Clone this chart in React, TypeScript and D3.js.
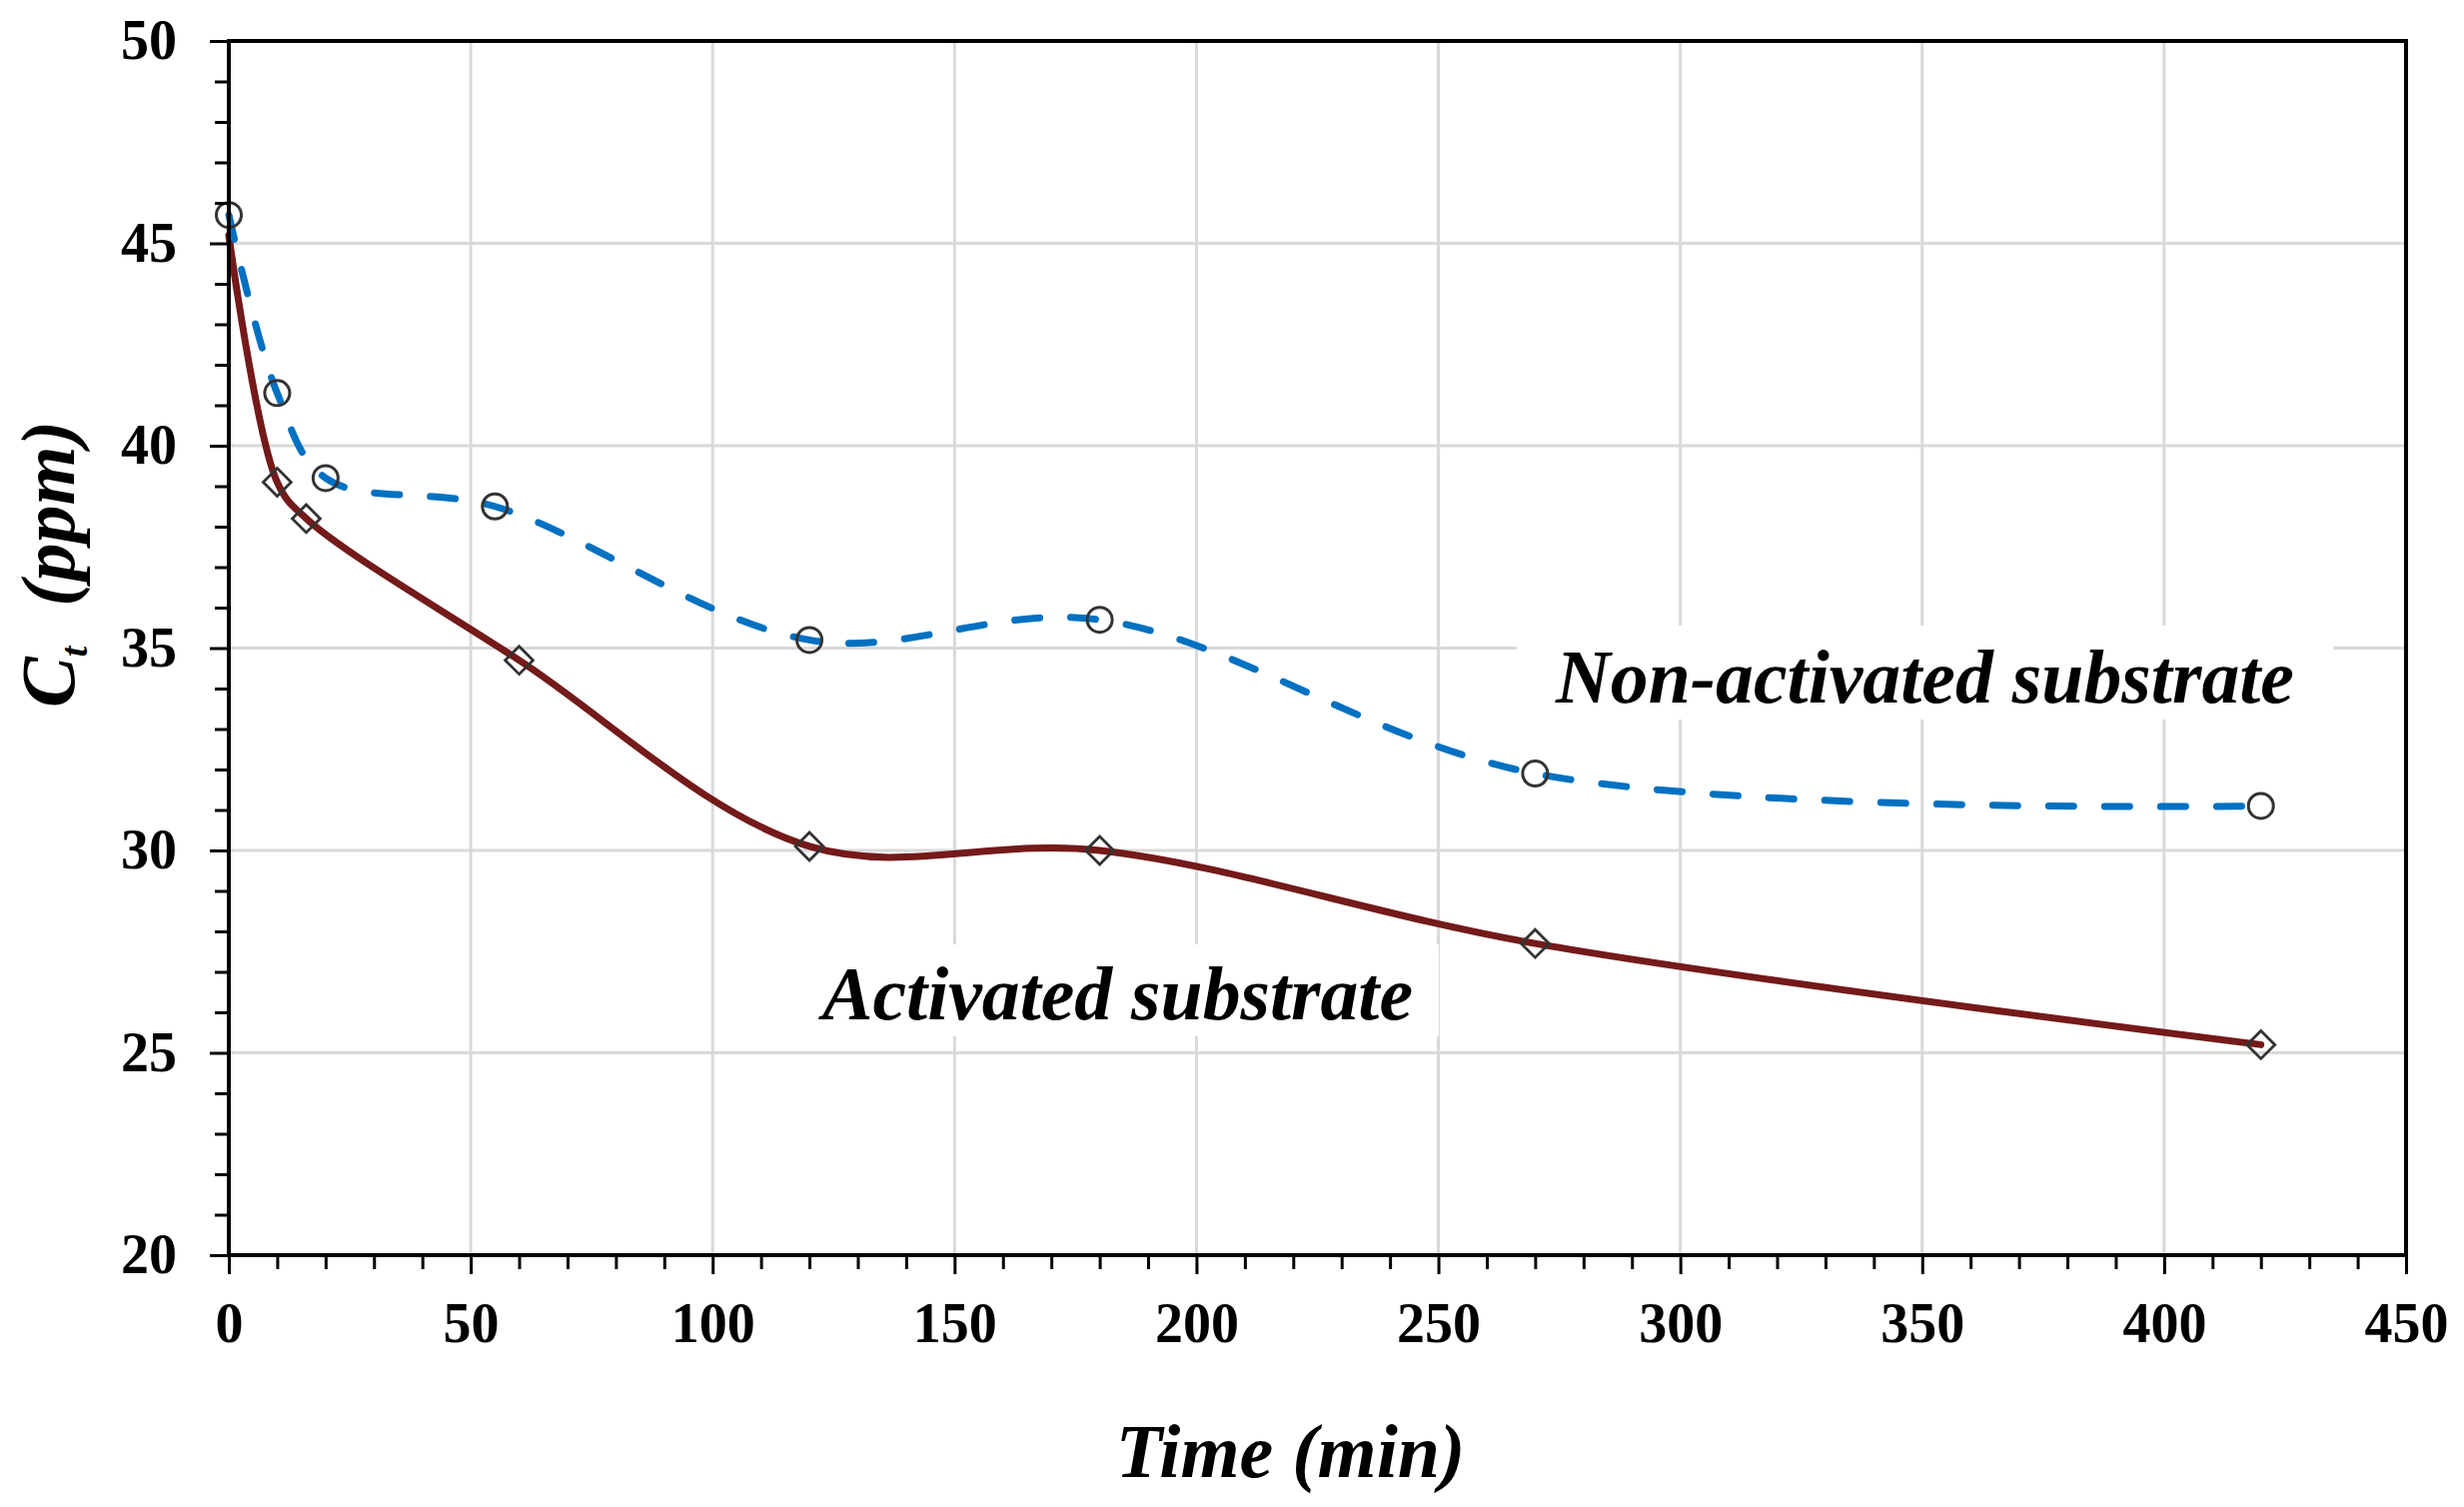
import React, { useEffect, useRef } from 'react';
import * as d3 from 'd3';

// axis ticks
const timeTicks = [0, 50, 100, 150, 200, 250, 300, 350, 400, 450];
const concTicks = [20, 25, 30, 35, 40, 45, 50];

// non-activated substrate (circles, dashed blue)
const nonActTime = [0, 10, 20, 55, 120, 180, 270, 420];
const nonActConc = [45.7, 41.3, 39.2, 38.5, 35.2, 35.7, 31.9, 31.1];

// activated substrate (diamonds, solid dark red); first point has no marker
const actTime = [0, 10, 16, 60, 120, 180, 270, 420];
const actConc = [45.2, 39.1, 38.2, 34.7, 30.1, 30.0, 27.7, 25.2];

const serif = "'Liberation Serif', 'Times New Roman', serif";

const App = () => {
  const Width = 2466;
  const Height = 1508;
  const margin = { top: 41, right: 58, bottom: 252, left: 229 };

  const x = d3.scaleLinear().domain([0, 450]).range([margin.left, Width - margin.right]);
  const y = d3.scaleLinear().domain([20, 50]).range([Height - margin.bottom, margin.top]);

  const xAxisRef = useRef<SVGGElement>(null);
  const yAxisRef = useRef<SVGGElement>(null);

  useEffect(() => {
    const minorTime = d3.range(0, 451, 10).filter((t) => t % 50 !== 0);
    const minorConc = d3.range(20, 51, 1).filter((c) => c % 5 !== 0);

    const gx = d3.select(xAxisRef.current);
    gx.selectAll('*').remove();
    gx.append('g').call(d3.axisBottom(x).tickValues(minorTime).tickSize(14).tickFormat(() => ''));
    gx.append('g').call(d3.axisBottom(x).tickValues(timeTicks).tickSize(19).tickPadding(28).tickFormat(d3.format('d')));

    const gy = d3.select(yAxisRef.current);
    gy.selectAll('*').remove();
    gy.append('g').call(d3.axisLeft(y).tickValues(minorConc).tickSize(14).tickFormat(() => ''));
    gy.append('g').call(d3.axisLeft(y).tickValues(concTicks).tickSize(19).tickPadding(33).tickFormat(d3.format('d')));

    [gx, gy].forEach((g) => {
      g.selectAll('.domain').remove();
      g.selectAll('line').attr('stroke', '#000').attr('stroke-width', 3);
      g.selectAll('text')
        .attr('font-size', 56)
        .attr('font-family', serif)
        .attr('font-weight', 'bold')
        .attr('fill', '#000');
    });
  }, []);

  const line = d3
    .line<[number, number]>()
    .x((d) => x(d[0]))
    .y((d) => y(d[1]))
    .curve(d3.curveCatmullRom);

  const nonActPts: [number, number][] = nonActTime.map((t, i) => [t, nonActConc[i]]);
  const actPts: [number, number][] = actTime.map((t, i) => [t, actConc[i]]);

  const diamond = d3.symbol().type(d3.symbolSquare).size(390)() as string;

  return (
    <svg
      width={Width}
      height={Height}
      style={{ position: 'absolute', left: 0, top: 0, background: '#fff' }}
    >
      <rect x={0} y={0} width={Width} height={Height} fill="#fff" />

      {/* grid */}
      <g stroke="#d9d9d9" strokeWidth={3}>
        {timeTicks.slice(1, -1).map((t) => (
          <line key={'gx' + t} x1={x(t)} x2={x(t)} y1={y(20)} y2={y(50)} />
        ))}
        {concTicks.slice(1, -1).map((c) => (
          <line key={'gy' + c} x1={x(0)} x2={x(450)} y1={y(c)} y2={y(c)} />
        ))}
      </g>

      {/* series labels with white boxes */}
      <rect x={1518} y={626} width={817} height={94} fill="#fff" />
      <text
        x={1557}
        y={703}
        fontFamily={serif}
        fontWeight="bold"
        fontStyle="italic"
        fontSize={76}
        textLength={739}
        lengthAdjust="spacingAndGlyphs"
      >
        Non-activated substrate
      </text>
      <rect x={800} y={945} width={640} height={92} fill="#fff" />
      <text
        x={823}
        y={1020}
        fontFamily={serif}
        fontWeight="bold"
        fontStyle="italic"
        fontSize={76}
        textLength={591}
        lengthAdjust="spacingAndGlyphs"
      >
        Activated substrate
      </text>

      {/* curves */}
      <path d={line(actPts) || ''} fill="none" stroke="#741a1a" strokeWidth={7} strokeLinecap="round" />
      <path
        d={line(nonActPts) || ''}
        fill="none"
        stroke="#0070c0"
        strokeWidth={7}
        strokeDasharray="25 31"
        strokeLinecap="round"
      />

      {/* markers */}
      {nonActPts.map((d, i) => (
        <circle key={'c' + i} cx={x(d[0])} cy={y(d[1])} r={12.5} fill="none" stroke="#333" strokeWidth={3} />
      ))}
      {actPts.slice(1).map((d, i) => (
        <path
          key={'d' + i}
          d={diamond}
          transform={`translate(${x(d[0])}, ${y(d[1])}) rotate(45)`}
          fill="none"
          stroke="#333"
          strokeWidth={2.8}
        />
      ))}

      {/* frame */}
      <rect
        x={x(0)}
        y={y(50)}
        width={x(450) - x(0)}
        height={y(20) - y(50)}
        fill="none"
        stroke="#000"
        strokeWidth={4}
      />

      <g ref={xAxisRef} transform={`translate(0, ${y(20)})`} />
      <g ref={yAxisRef} transform={`translate(${x(0)}, 0)`} />

      {/* axis titles */}
      <text
        x={(x(0) + x(450)) / 2 - 27}
        y={1478}
        textAnchor="middle"
        fontFamily={serif}
        fontWeight="bold"
        fontStyle="italic"
        fontSize={76}
      >
        Time (min)
      </text>
      <text
        transform={`translate(74, 708) rotate(-90)`}
        fontFamily={serif}
        fontWeight="bold"
        fontStyle="italic"
        fontSize={76}
      >
        C
        <tspan fontSize={38} dy={13}>t</tspan>
        <tspan dy={-13} dx={40}>(ppm)</tspan>
      </text>
    </svg>
  );
};

export default App;
